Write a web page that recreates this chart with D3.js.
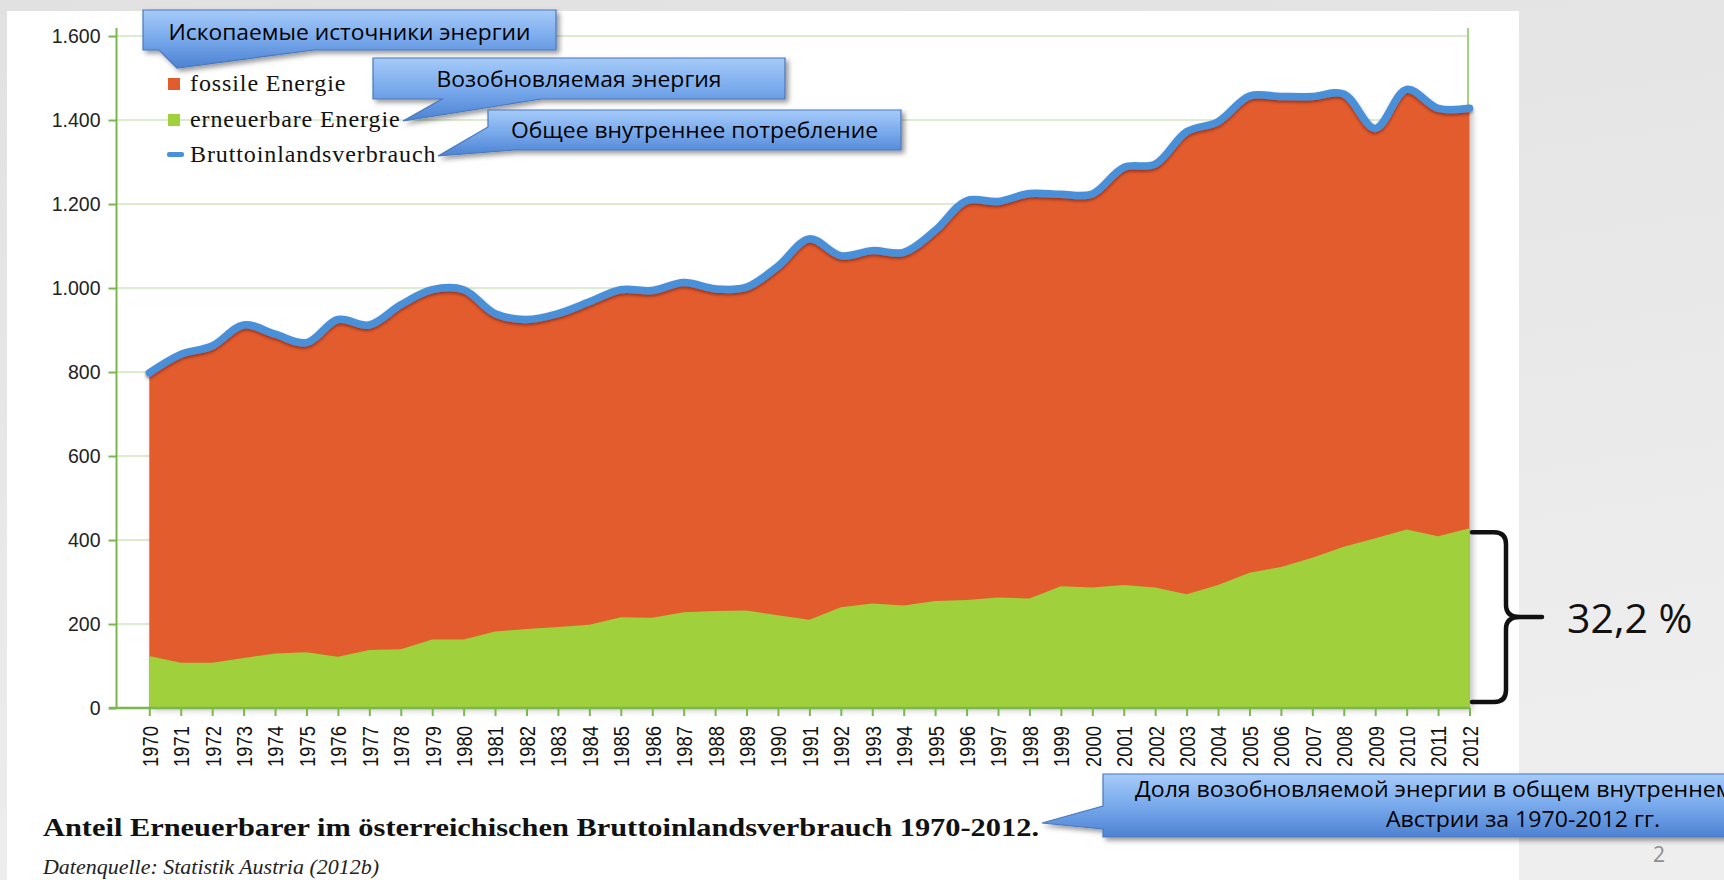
<!DOCTYPE html>
<html>
<head>
<meta charset="utf-8">
<script src="https://cdn.jsdelivr.net/npm/d3@7"></script>
<style>
  body { margin: 0; background: #e6e6e6; }
  svg { display: block; }
</style>
</head>
<body>
<script>
// categories
var years = ["1970","1971","1972","1973","1974","1975","1976","1977","1978","1979",
             "1980","1981","1982","1983","1984","1985","1986","1987","1988","1989",
             "1990","1991","1992","1993","1994","1995","1996","1997","1998","1999",
             "2000","2001","2002","2003","2004","2005","2006","2007","2008","2009",
             "2010","2011","2012"];
// Bruttoinlandsverbrauch (PJ)
var total = [798,842,862,912,890,870,925,912,960,996,
             996,939,925,939,967,996,994,1013,998,1002,
             1052,1117,1077,1089,1085,1137,1208,1206,1225,1223,
             1224,1287,1295,1372,1396,1457,1456,1456,1462,1380,
             1473,1428,1428];
// erneuerbare Energie (PJ)
var renewable = [124,108,108,119,130,133,122,138,140,163,
                 163,182,188,193,198,216,215,228,231,232,
                 221,210,240,249,244,255,257,263,261,290,
                 287,293,287,271,293,322,336,358,384,404,
                 425,409,428];
var yTicks = [0,200,400,600,800,1000,1200,1400,1600];
var legendLabels = ["fossile Energie","erneuerbare Energie","Bruttoinlandsverbrauch"];
var calloutTexts = ["Ископаемые источники энергии","Возобновляемая энергия","Общее внутреннее потребление"];
var noteLines = ["Доля возобновляемой энергии в общем внутреннем потреблении","Австрии за 1970-2012 гг."];
var shareLabel = "32,2 %";
var captionTitle = "Anteil Erneuerbarer im österreichischen Bruttoinlandsverbrauch 1970-2012.";
var captionSource = "Datenquelle: Statistik Austria (2012b)";

var colFossil = "#e25c2e", colRenew = "#a0d03a", colLine = "#4a90d9",
    colAxis = "#7ab84e", colGrid = "#dbeccf";

var width = 1724, height = 880;
var svg = d3.select("body").append("svg")
    .attr("width", width).attr("height", height);

var defs = svg.append("defs");
var bg = defs.append("linearGradient").attr("id","bg")
    .attr("x1","0").attr("y1","0").attr("x2","0.3").attr("y2","1");
bg.append("stop").attr("offset","0").attr("stop-color","#e1e1e2");
bg.append("stop").attr("offset","1").attr("stop-color","#eeeeee");

var cg = defs.append("linearGradient").attr("id","callout")
    .attr("x1","0").attr("y1","0").attr("x2","0").attr("y2","1");
cg.append("stop").attr("offset","0").attr("stop-color","#a6cbf9");
cg.append("stop").attr("offset","0.5").attr("stop-color","#78a9ec");
cg.append("stop").attr("offset","1").attr("stop-color","#4d82d2");

var sh = defs.append("filter").attr("id","shadow")
    .attr("x","-10%").attr("y","-30%").attr("width","130%").attr("height","180%");
sh.append("feDropShadow").attr("dx",3).attr("dy",3).attr("stdDeviation",2.5)
    .attr("flood-color","#000").attr("flood-opacity",0.4);

var lsh = defs.append("filter").attr("id","lineShadow")
    .attr("x","-5%").attr("y","-20%").attr("width","110%").attr("height","140%");
lsh.append("feDropShadow").attr("dx",0).attr("dy",2).attr("stdDeviation",1.5)
    .attr("flood-color","#400").attr("flood-opacity",0.45);

var ash = defs.append("filter").attr("id","areaShadow")
    .attr("x","-5%").attr("y","-5%").attr("width","110%").attr("height","110%");
ash.append("feDropShadow").attr("dx",3).attr("dy",2).attr("stdDeviation",3)
    .attr("flood-color","#000").attr("flood-opacity",0.25);

// slide background + white picture
svg.append("rect").attr("width",width).attr("height",height).attr("fill","url(#bg)");
svg.append("rect").attr("x",7).attr("y",11).attr("width",1512).attr("height",height)
    .attr("fill","#ffffff");

// scales
var x = d3.scalePoint().domain(years).range([149.3, 1469.5]);
var y = d3.scaleLinear().domain([0,1600]).range([708, 36]);
var fmt = d3.formatLocale({decimal:",", thousands:".", grouping:[3], currency:["",""]}).format(",");

var data = years.map(function(d,i){ return {year:d, total:total[i], ren:renewable[i]}; });

// gridlines
svg.append("g").selectAll("line").data(yTicks.filter(function(d){ return d>0; })).enter()
    .append("line")
    .attr("x1",116).attr("x2",1468)
    .attr("y1",function(d){ return y(d); }).attr("y2",function(d){ return y(d); })
    .attr("stroke",colGrid).attr("stroke-width",2);

// right frame line
svg.append("line").attr("x1",1468).attr("x2",1468).attr("y1",28).attr("y2",y(0))
    .attr("stroke","#a5d183").attr("stroke-width",2);

// areas
var curve = d3.curveCatmullRom.alpha(0.5);
var areaTotal = d3.area().curve(curve)
    .x(function(d){ return x(d.year); })
    .y0(y(0)).y1(function(d){ return y(d.total); });
var areaRen = d3.area()
    .x(function(d){ return x(d.year); })
    .y0(y(0)).y1(function(d){ return y(d.ren); });
var lineTotal = d3.line().curve(curve)
    .x(function(d){ return x(d.year); })
    .y(function(d){ return y(d.total); });

var ga = svg.append("g").attr("filter","url(#areaShadow)");
ga.append("path").datum(data).attr("d",areaTotal).attr("fill",colFossil);
ga.append("path").datum(data).attr("d",areaRen).attr("fill",colRenew);

svg.append("path").datum(data).attr("d",lineTotal)
    .attr("fill","none").attr("stroke",colLine).attr("stroke-width",7.5)
    .attr("stroke-linecap","round").attr("stroke-linejoin","round")
    .attr("filter","url(#lineShadow)");

// y axis
var yAxis = svg.append("g").attr("transform","translate(116.5,0)")
    .call(d3.axisLeft(y).tickValues(yTicks).tickSize(8).tickPadding(8).tickFormat(fmt));
yAxis.select(".domain").remove();
yAxis.selectAll(".tick line").attr("stroke",colAxis).attr("stroke-width",2);
yAxis.selectAll(".tick text").attr("fill","#222")
    .style("font-family","'Liberation Sans', Arial, sans-serif").style("font-size","19.5px");
svg.append("line").attr("x1",116.5).attr("x2",116.5).attr("y1",28).attr("y2",y(0)+1)
    .attr("stroke",colAxis).attr("stroke-width",2);

// x axis
var xAxis = svg.append("g").attr("transform","translate(0," + y(0) + ")")
    .call(d3.axisBottom(x).tickSize(8).tickSizeOuter(0));
xAxis.select(".domain").attr("d","M109,0H1470").attr("stroke",colAxis).attr("stroke-width",2.5);
xAxis.selectAll(".tick line").attr("stroke",colAxis).attr("stroke-width",2);
xAxis.selectAll(".tick text")
    .attr("transform","rotate(-90)")
    .attr("x",-18).attr("y",0).attr("dy","0.36em")
    .attr("text-anchor","end")
    .attr("textLength",41).attr("lengthAdjust","spacingAndGlyphs")
    .attr("fill","#111")
    .style("font-family","'Liberation Sans', Arial, sans-serif").style("font-size","22px");

// legend
var legend = svg.append("g").attr("transform","translate(168,0)");
var legColors = [colFossil, colRenew, colLine];
var legBase = [91, 127, 162];
legendLabels.forEach(function(lbl,i){
  if (i < 2) {
    legend.append("rect").attr("x",0).attr("y",legBase[i]-13).attr("width",12).attr("height",12)
      .attr("fill",legColors[i]);
  } else {
    legend.append("rect").attr("x",-1).attr("y",legBase[i]-10).attr("width",17).attr("height",5)
      .attr("rx",2).attr("fill",legColors[i]);
  }
  legend.append("text").attr("x",22).attr("y",legBase[i]).text(lbl)
    .attr("fill","#111").attr("letter-spacing","0.9px")
    .style("font-family","'Liberation Serif', 'Times New Roman', serif").style("font-size","24px");
});

// callouts
var calloutFont = "'Open Sans', 'Noto Sans', sans-serif";
var callouts = [
  {path:"M143,10H556V50H314L177,68L159,50H143Z", cx:349.5, by:40, w:362},
  {path:"M373,58H785V99H541L403,121L442,99H373Z", cx:579, by:87, w:285},
  {path:"M488,110H901V150H514L438,156L488,127Z", cx:694.5, by:138, w:367}
];
callouts.forEach(function(c,i){
  svg.append("path").attr("d",c.path).attr("fill","url(#callout)")
    .attr("stroke","#4a78bd").attr("stroke-width",1.2).attr("filter","url(#shadow)");
  svg.append("text").attr("x",c.cx).attr("y",c.by).attr("text-anchor","middle")
    .attr("textLength",c.w).attr("lengthAdjust","spacingAndGlyphs")
    .attr("fill","#000").style("font-family",calloutFont).style("font-size","22px")
    .text(calloutTexts[i]);
});

// share brace
var bTop = y(renewable[renewable.length-1]) + 4, bBot = y(0) - 6, bMid = (bTop + bBot) / 2;
svg.append("path")
  .attr("d","M1472," + bTop + "H1494Q1506," + bTop + " 1506," + (bTop+12) +
            "V" + (bMid-12) + "Q1506," + bMid + " 1520," + bMid + "H1542" +
            "M1520," + bMid + "Q1506," + bMid + " 1506," + (bMid+12) +
            "V" + (bBot-12) + "Q1506," + bBot + " 1494," + bBot + "H1472")
  .attr("fill","none").attr("stroke","#111").attr("stroke-width",4.5)
  .attr("stroke-linecap","round");
svg.append("text").attr("x",1567).attr("y",633).text(shareLabel)
  .attr("fill","#111").style("font-family",calloutFont).style("font-size","41px");

// caption
svg.append("text").attr("x",43).attr("y",836).text(captionTitle)
  .attr("textLength",996).attr("lengthAdjust","spacingAndGlyphs")
  .attr("fill","#111").style("font-weight","bold")
  .style("font-family","'Liberation Serif', 'Times New Roman', serif").style("font-size","26px");
svg.append("text").attr("x",43).attr("y",874).text(captionSource)
  .attr("textLength",336).attr("lengthAdjust","spacingAndGlyphs")
  .attr("fill","#222").style("font-style","italic")
  .style("font-family","'Liberation Serif', 'Times New Roman', serif").style("font-size","21px");

// page number
svg.append("text").attr("x",1659).attr("y",862).attr("text-anchor","middle").text("2")
  .attr("fill","#8e8e8e").style("font-family",calloutFont).style("font-size","21px");

// bottom note callout (runs past the right edge, as on the slide)
svg.append("path").attr("d","M1103,774H1760V837H1103V829L1042,823L1103,806Z")
  .attr("fill","url(#callout)").attr("stroke","#4a78bd").attr("stroke-width",1.2)
  .attr("filter","url(#shadow)");
var n2 = svg.append("text").attr("x",1386).attr("y",827).text(noteLines[1])
  .attr("fill","#000").style("font-family",calloutFont).style("font-size","22px");
var ratio = 274 / n2.node().getComputedTextLength();
n2.attr("textLength",274).attr("lengthAdjust","spacingAndGlyphs");
var n1 = svg.append("text").attr("x",1135).attr("y",797).text(noteLines[0])
  .attr("fill","#000").style("font-family",calloutFont).style("font-size","22px");
n1.attr("textLength", n1.node().getComputedTextLength() * ratio).attr("lengthAdjust","spacingAndGlyphs");
</script>
</body>
</html>
